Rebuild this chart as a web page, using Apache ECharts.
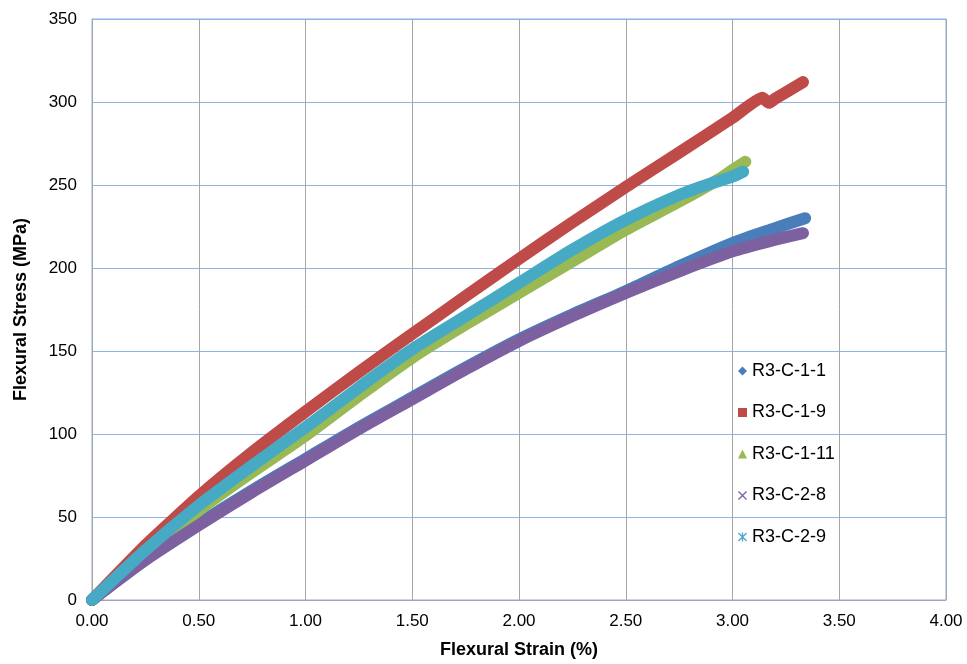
<!DOCTYPE html>
<html>
<head>
<meta charset="utf-8">
<script src="https://cdn.jsdelivr.net/npm/echarts@6/dist/echarts.min.js"></script>
<style>html,body{margin:0;padding:0;background:#fff}#c{width:967px;height:664px}</style>
</head>
<body>
<div id="c"></div>
<script>
// Data (strain %, stress MPa)
const seriesNames = ['R3-C-1-1', 'R3-C-1-9', 'R3-C-1-11', 'R3-C-2-8', 'R3-C-2-9'];
const r3c11 = [[0,0],[0.25,25],[0.5,46],[0.75,66],[1.0,85],[1.25,104],[1.5,122],[1.75,140],[2.0,157],[2.25,172],[2.5,186],[2.75,201],[3.0,215],[3.2,224],[3.34,230]];
const r3c19 = [[0,0],[0.25,33],[0.5,62.5],[0.75,89],[1.0,113.5],[1.25,137.3],[1.5,160.3],[1.75,183],[2.0,205.5],[2.25,227.5],[2.5,248.8],[2.75,269.5],[3.0,290.5],[3.14,302.5],[3.17,299.5],[3.2,302],[3.33,312]];
const r3c111 = [[0,0],[0.25,28],[0.5,54],[0.75,77],[1.0,99],[1.25,123],[1.5,146],[1.75,166],[2.0,185],[2.25,204],[2.5,223],[2.75,240],[2.93,253],[3.0,259],[3.06,264]];
const r3c28 = [[0,0],[0.25,24],[0.5,45],[0.75,65],[1.0,84],[1.25,103],[1.5,121],[1.75,139],[2.0,156],[2.25,171],[2.5,185],[2.75,198],[3.0,210],[3.2,217],[3.33,221]];
const r3c29 = [[0,0],[0.25,30],[0.5,57],[0.75,81],[1.0,104],[1.25,128],[1.5,151],[1.75,171],[2.0,191],[2.25,211],[2.5,229],[2.75,244],[2.9,251],[3.0,255],[3.05,258]];
const xTicks = ['0.00','0.50','1.00','1.50','2.00','2.50','3.00','3.50','4.00'];
const yTicks = [0,50,100,150,200,250,300,350];

const colors = ['#4a7ebb', '#be4b48', '#98b954', '#7d60a0', '#46aac5'];
const xPath = 'path://M0,1 L1,0 L5,4 L9,0 L10,1 L6,5 L10,9 L9,10 L5,6 L1,10 L0,9 L4,5 Z';
const starPath = 'path://M0,1 L1,0 L5,4 L9,0 L10,1 L6,5 L10,9 L9,10 L5,6 L1,10 L0,9 L4,5 Z M4.3,0 L5.7,0 L5.7,10 L4.3,10 Z';
const icons = ['diamond', 'rect', 'triangle', xPath, starPath];
const allData = [r3c11, r3c19, r3c111, r3c28, r3c29];
const smoothness = [0.25, 0.15, 0.25, 0.25, 0.25];

const font = '"Liberation Sans", Arial, sans-serif';
const chart = echarts.init(document.getElementById('c'), null, {renderer: 'canvas'});
chart.setOption({
  animation: false,
  color: colors,
  grid: {left: 92, right: 21, top: 19, bottom: 64, show: true, borderColor: '#8faadc', borderWidth: 1, backgroundColor: 'transparent'},
  legend: {
    orient: 'vertical', left: 733, top: 357, itemWidth: 9, itemHeight: 9, itemGap: 23.5,
    textStyle: {fontFamily: font, fontSize: 18, color: '#000'},
    lineStyle: {opacity: 0},
    data: seriesNames.map((n, i) => ({name: n, icon: icons[i]}))
  },
  xAxis: {
    type: 'value', min: 0, max: 4, interval: 0.5,
    name: 'Flexural Strain (%)', nameLocation: 'middle', nameGap: 41,
    nameTextStyle: {fontFamily: font, fontSize: 18, fontWeight: 'bold', color: '#000'},
    axisLine: {show: true, onZero: false, lineStyle: {color: '#a6a6a6', width: 1}},
    axisTick: {show: false},
    axisLabel: {fontFamily: font, fontSize: 17, color: '#000', margin: 13, formatter: v => xTicks[Math.round(v / 0.5)]},
    splitLine: {show: true, lineStyle: {color: '#a6a6a6', width: 1}}
  },
  yAxis: {
    type: 'value', min: 0, max: 350, interval: 50,
    name: 'Flexural Stress (MPa)', nameLocation: 'middle', nameGap: 62,
    nameTextStyle: {fontFamily: font, fontSize: 18, fontWeight: 'bold', color: '#000'},
    axisLine: {show: true, lineStyle: {color: '#a6a6a6', width: 1}},
    axisTick: {show: false},
    axisLabel: {fontFamily: font, fontSize: 17, color: '#000', margin: 15, formatter: v => String(yTicks[Math.round(v / 50)])},
    splitLine: {show: true, lineStyle: {color: '#8eb4e3', width: 1}}
  },
  series: seriesNames.map((n, i) => ({
    name: n, type: 'line', data: allData[i], smooth: smoothness[i],
    symbol: icons[i], symbolSize: 8, showSymbol: false,
    itemStyle: {color: colors[i]},
    lineStyle: {width: 12, color: colors[i], cap: 'round', join: 'round'}
  }))
});
</script>
</body>
</html>
